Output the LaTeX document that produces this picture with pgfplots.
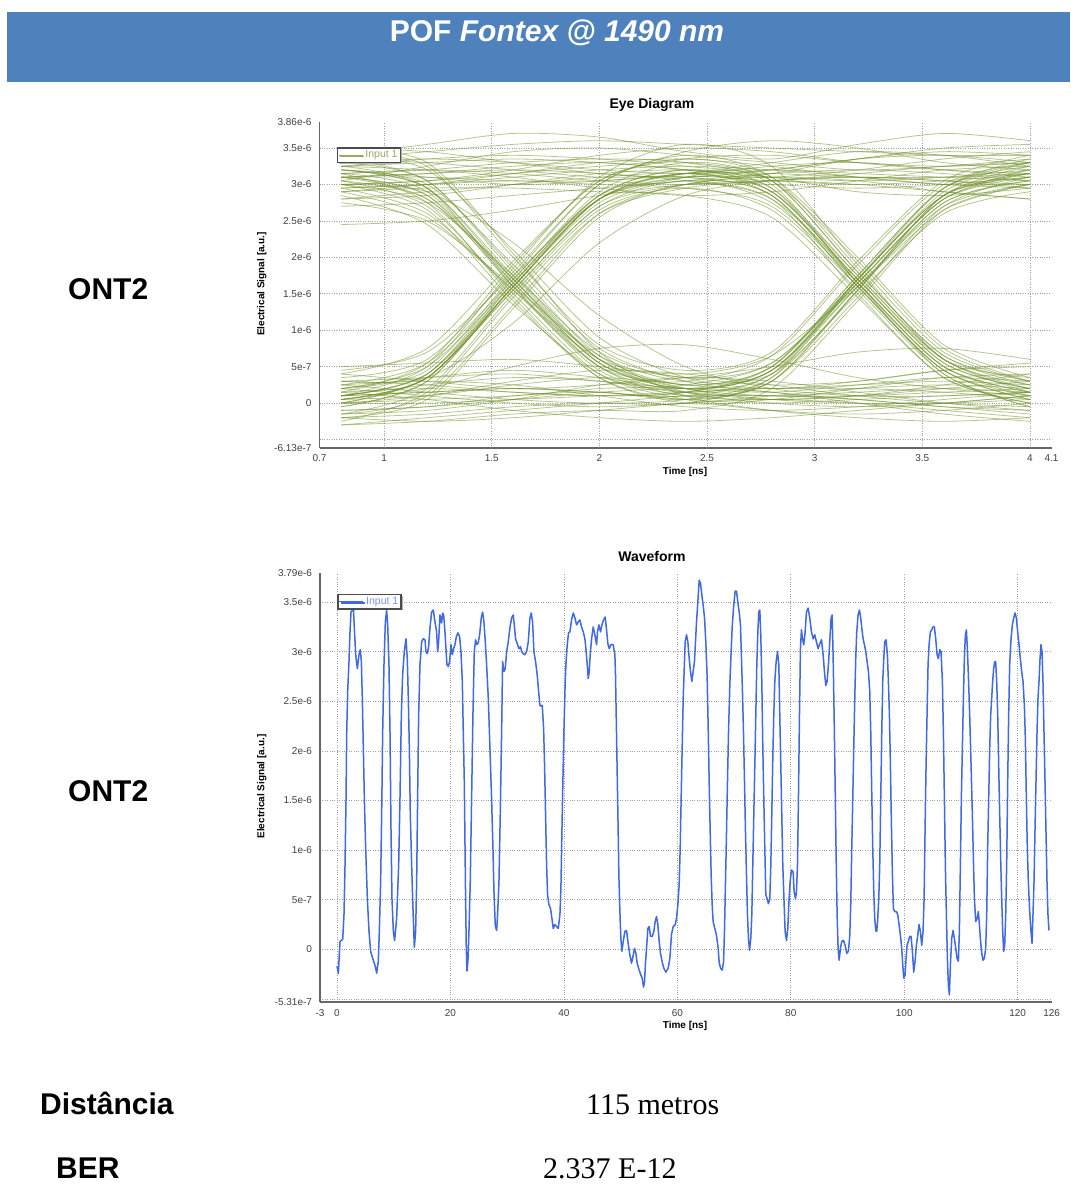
\documentclass[border=0pt]{standalone}
\usepackage{fontspec}
\setmainfont{Liberation Sans}
\newfontfamily\seriffont{Liberation Serif}
\usepackage{pgfplots}
\pgfplotsset{compat=1.18}
\usetikzlibrary{shadows}
\definecolor{barblue}{RGB}{79,129,189}
\definecolor{eyegreen}{RGB}{108,142,36}
\definecolor{eyelegtext}{RGB}{150,172,100}
\definecolor{waveblue}{RGB}{65,105,225}
\definecolor{wavelegtext}{RGB}{125,145,235}

\pgfplotsset{
  chartstyle/.style={
    scale only axis,
    anchor=south west,
    axis x line*=bottom, axis y line*=left,
    axis line style={black!60, line width=1.5pt},
    major tick length=0pt,
    grid=major,
    major grid style={gray!75, dotted, line width=0.7pt},
    tick label style={font=\fontsize{10}{12}\selectfont, text=black!75},
    yticklabel style={xshift=-4.5pt},
    xticklabel style={yshift=-3.5pt},
    extra tick style={grid=none},
    legend cell align=left,
    legend style={font=\fontsize{10.5}{12}\selectfont, draw=black!70, line width=1.3pt, fill=white, inner sep=0.8pt, anchor=north west,
      drop shadow={shadow xshift=1.5pt, shadow yshift=-1.5pt, fill=black!30, opacity=1}},
  },
  eyeline/.style={color=eyegreen, opacity=0.5, line width=0.8pt, smooth, forget plot},
}
\newcommand{\eye}[9]{\addplot[eyeline] coordinates {(0.8,#1)(1.2,#2)(1.6,#3)(2.0,#4)(2.4,#5)(2.8,#6)(3.2,#7)(3.6,#8)(4.0,#9)};}

\begin{document}
\begin{tikzpicture}
\path[use as bounding box] (0pt,0pt) rectangle (1070pt,-1185pt);
\fill[barblue] (7pt,-12pt) rectangle (1070pt,-82pt);
\node[anchor=base, text=white, inner sep=0pt, font=\fontsize{30}{36}\selectfont\bfseries] at (557pt,-42pt) {POF \textit{Fontex @ 1490 nm}};

% ---------------- Eye diagram ----------------
\begin{axis}[chartstyle,
  at={(319.5pt,-447.8pt)}, width=732pt, height=326pt,
  xmin=0.7, xmax=4.1, ymin=-0.613, ymax=3.86,
  xtick={1,1.5,2,2.5,3,3.5,4}, xticklabels={1,1.5,2,2.5,3,3.5,4},
  extra x ticks={0.7,4.1}, extra x tick labels={0.7,4.1},
  ytick={-0.5,0,0.5,1,1.5,2,2.5,3,3.5},
  yticklabels={,0,5e-7,1e-6,1.5e-6,2e-6,2.5e-6,3e-6,3.5e-6},
  extra y ticks={-0.613,3.86}, extra y tick labels={-6.13e-7,3.86e-6},
  legend style={at={(0.024,0.922)}, text=eyelegtext},
  legend image code/.code={\draw[#1] (0pt,0pt) -- (24pt,0pt);},
]
\addlegendimage{color=eyegreen!75, line width=0.9pt}
\addlegendentry{Input 1}
% HHH
\eye{3.10}{3.15}{3.25}{3.30}{3.20}{3.10}{3.05}{3.10}{3.20}
\eye{3.30}{3.35}{3.30}{3.20}{3.15}{3.20}{3.35}{3.40}{3.30}
\eye{2.95}{3.00}{3.10}{3.20}{3.25}{3.20}{3.10}{3.00}{2.95}
\eye{3.40}{3.55}{3.70}{3.65}{3.45}{3.35}{3.55}{3.70}{3.60}
\eye{2.80}{2.85}{3.00}{3.15}{3.20}{3.10}{2.90}{2.85}{2.95}
\eye{3.20}{3.10}{3.00}{3.05}{3.15}{3.30}{3.45}{3.40}{3.25}
\eye{3.05}{3.25}{3.45}{3.50}{3.40}{3.30}{3.20}{3.25}{3.35}
\eye{2.70}{2.75}{2.85}{2.95}{3.05}{3.15}{3.20}{3.15}{3.05}
\eye{3.50}{3.45}{3.30}{3.15}{3.10}{3.20}{3.35}{3.50}{3.55}
\eye{3.15}{3.20}{3.15}{3.05}{3.00}{3.05}{3.15}{3.25}{3.30}
\eye{2.45}{2.50}{2.65}{2.85}{3.00}{3.05}{3.00}{2.90}{2.80}
\eye{3.00}{3.05}{3.20}{3.40}{3.50}{3.45}{3.30}{3.20}{3.15}
\eye{3.25}{3.20}{3.10}{2.95}{2.85}{2.90}{3.05}{3.20}{3.25}
\eye{2.90}{3.00}{3.15}{3.30}{3.35}{3.25}{3.10}{3.00}{3.00}
\eye{3.35}{3.45}{3.55}{3.60}{3.55}{3.50}{3.45}{3.40}{3.40}
% LLL
\eye{0.10}{0.15}{0.20}{0.15}{0.05}{0.00}{0.05}{0.10}{0.15}
\eye{-0.20}{-0.25}{-0.20}{-0.10}{0.00}{0.05}{0.00}{-0.10}{-0.20}
\eye{0.30}{0.35}{0.40}{0.30}{0.20}{0.15}{0.25}{0.35}{0.30}
\eye{0.00}{0.10}{0.30}{0.45}{0.40}{0.25}{0.10}{0.00}{-0.05}
\eye{-0.10}{-0.05}{0.05}{0.15}{0.20}{0.15}{0.00}{-0.15}{-0.25}
\eye{0.50}{0.55}{0.60}{0.50}{0.35}{0.25}{0.30}{0.45}{0.55}
\eye{0.20}{0.10}{0.00}{-0.05}{0.00}{0.10}{0.20}{0.25}{0.20}
\eye{-0.30}{-0.20}{-0.10}{0.00}{0.10}{0.10}{0.05}{-0.05}{-0.10}
\eye{0.05}{0.20}{0.50}{0.75}{0.80}{0.60}{0.35}{0.20}{0.10}
\eye{0.15}{0.05}{-0.10}{-0.20}{-0.25}{-0.20}{-0.10}{0.00}{0.10}
\eye{0.40}{0.30}{0.20}{0.25}{0.35}{0.50}{0.70}{0.75}{0.60}
\eye{0.00}{0.00}{0.05}{0.10}{0.15}{0.20}{0.20}{0.15}{0.05}
\eye{0.25}{0.30}{0.25}{0.10}{-0.05}{-0.10}{-0.05}{0.05}{0.15}
\eye{-0.15}{-0.10}{0.05}{0.25}{0.35}{0.30}{0.15}{0.00}{-0.10}
\eye{0.10}{0.25}{0.35}{0.30}{0.15}{0.05}{0.10}{0.25}{0.40}
% HLL
\eye{3.10}{2.80}{1.65}{0.55}{0.20}{0.10}{0.10}{0.15}{0.20}
\eye{3.30}{3.05}{1.80}{0.60}{0.15}{0.00}{-0.05}{0.00}{0.10}
\eye{2.95}{2.60}{1.55}{0.50}{0.25}{0.20}{0.25}{0.30}{0.25}
\eye{3.20}{3.00}{1.90}{0.75}{0.30}{0.15}{0.05}{-0.05}{-0.15}
\eye{3.05}{2.70}{1.50}{0.40}{0.05}{-0.10}{-0.15}{-0.10}{0.00}
\eye{3.40}{3.20}{2.10}{0.90}{0.35}{0.20}{0.30}{0.45}{0.50}
\eye{3.20}{2.95}{1.75}{0.60}{0.20}{0.05}{0.00}{0.00}{0.05}
\eye{3.00}{2.90}{2.20}{1.20}{0.50}{0.20}{0.10}{0.10}{0.15}
\eye{2.85}{2.45}{1.35}{0.40}{0.10}{0.05}{0.10}{0.20}{0.30}
\eye{3.50}{3.30}{2.05}{0.70}{0.10}{-0.10}{-0.20}{-0.25}{-0.20}
\eye{3.15}{2.75}{1.45}{0.35}{0.00}{0.05}{0.20}{0.35}{0.40}
\eye{3.10}{2.85}{1.60}{0.50}{0.15}{0.10}{0.15}{0.20}{0.15}
% HLH
\eye{3.10}{2.85}{1.70}{0.55}{0.20}{0.45}{1.65}{2.80}{3.15}
\eye{3.25}{2.95}{1.60}{0.45}{0.15}{0.40}{1.60}{2.75}{3.05}
\eye{3.00}{2.75}{1.75}{0.70}{0.35}{0.55}{1.70}{2.90}{3.30}
\eye{3.35}{3.05}{1.85}{0.65}{0.25}{0.50}{1.75}{2.95}{3.25}
\eye{2.90}{2.55}{1.55}{0.60}{0.40}{0.65}{1.60}{2.65}{3.00}
\eye{3.15}{2.90}{1.65}{0.50}{0.10}{0.30}{1.55}{2.85}{3.20}
\eye{3.05}{2.80}{1.70}{0.60}{0.25}{0.50}{1.70}{2.85}{3.15}
\eye{3.00}{2.65}{1.40}{0.35}{0.05}{0.30}{1.45}{2.70}{3.10}
\eye{3.45}{3.25}{2.00}{0.80}{0.45}{0.70}{1.95}{3.05}{3.40}
\eye{2.75}{2.50}{1.60}{0.65}{0.30}{0.40}{1.50}{2.60}{2.90}
\eye{3.20}{2.95}{1.70}{0.55}{0.20}{0.45}{1.70}{2.85}{3.15}
% LHL
\eye{0.10}{0.40}{1.65}{2.85}{3.20}{2.90}{1.70}{0.55}{0.20}
\eye{-0.05}{0.30}{1.60}{2.80}{3.15}{2.85}{1.60}{0.45}{0.05}
\eye{0.25}{0.55}{1.70}{2.90}{3.30}{3.05}{1.80}{0.65}{0.30}
\eye{0.00}{0.35}{1.55}{2.70}{3.05}{2.75}{1.65}{0.50}{0.15}
\eye{0.20}{0.45}{1.75}{3.00}{3.40}{3.10}{1.85}{0.60}{0.25}
\eye{-0.15}{0.20}{1.50}{2.65}{2.95}{2.65}{1.55}{0.40}{-0.05}
\eye{0.05}{0.35}{1.60}{2.80}{3.15}{2.90}{1.75}{0.60}{0.20}
\eye{0.40}{0.75}{1.95}{3.05}{3.35}{3.10}{2.00}{0.80}{0.35}
\eye{-0.20}{0.05}{1.30}{2.55}{3.00}{2.80}{1.50}{0.35}{0.00}
\eye{0.10}{0.50}{1.85}{3.10}{3.55}{3.25}{1.90}{0.70}{0.30}
\eye{0.05}{0.35}{1.65}{2.85}{3.20}{2.95}{1.65}{0.50}{0.15}
% LLH
\eye{0.10}{0.15}{0.20}{0.15}{0.10}{0.40}{1.70}{2.85}{3.10}
\eye{-0.10}{-0.05}{0.10}{0.15}{0.05}{0.30}{1.55}{2.75}{3.05}
\eye{0.30}{0.25}{0.15}{0.10}{0.15}{0.50}{1.75}{2.95}{3.30}
\eye{0.00}{0.05}{0.10}{0.20}{0.25}{0.55}{1.65}{2.80}{3.20}
\eye{0.20}{0.35}{0.45}{0.35}{0.20}{0.45}{1.60}{2.70}{3.00}
\eye{-0.20}{-0.15}{-0.05}{0.00}{0.00}{0.35}{1.70}{2.95}{3.35}
\eye{0.15}{0.20}{0.15}{0.10}{0.15}{0.45}{1.65}{2.80}{3.10}
\eye{0.05}{0.10}{0.25}{0.35}{0.30}{0.65}{1.90}{3.00}{3.30}
\eye{-0.30}{-0.25}{-0.15}{-0.10}{-0.10}{0.20}{1.40}{2.65}{3.00}
\eye{0.25}{0.15}{0.05}{0.00}{0.05}{0.35}{1.55}{2.85}{3.25}
% LHH
\eye{0.10}{0.40}{1.70}{2.85}{3.15}{3.20}{3.15}{3.10}{3.05}
\eye{-0.05}{0.30}{1.60}{2.75}{3.10}{3.25}{3.30}{3.20}{3.10}
\eye{0.20}{0.50}{1.65}{2.80}{3.05}{3.00}{2.95}{3.00}{3.10}
\eye{0.00}{0.35}{1.55}{2.70}{3.00}{3.15}{3.35}{3.45}{3.40}
\eye{0.35}{0.60}{1.80}{3.00}{3.45}{3.60}{3.50}{3.30}{3.20}
\eye{-0.25}{0.15}{1.45}{2.60}{2.95}{3.05}{3.10}{3.05}{2.95}
\eye{0.05}{0.35}{1.60}{2.80}{3.10}{3.05}{3.00}{3.05}{3.15}
\eye{0.30}{0.35}{1.10}{2.20}{2.85}{3.05}{3.10}{3.05}{3.00}
\eye{0.15}{0.55}{1.90}{3.05}{3.35}{3.40}{3.30}{3.25}{3.30}
\eye{-0.15}{0.10}{1.35}{2.60}{3.00}{3.10}{3.05}{2.90}{2.80}
\eye{0.45}{0.70}{1.75}{2.80}{3.10}{3.10}{3.20}{3.35}{3.45}
\eye{0.10}{0.40}{1.60}{2.80}{3.15}{3.15}{3.10}{3.10}{3.15}
% HHL
\eye{3.10}{3.15}{3.20}{3.15}{3.05}{2.80}{1.70}{0.55}{0.20}
\eye{3.25}{3.30}{3.35}{3.30}{3.20}{2.95}{1.75}{0.60}{0.15}
\eye{2.95}{3.00}{3.05}{3.00}{2.95}{2.70}{1.60}{0.45}{0.05}
\eye{3.00}{3.05}{3.15}{3.25}{3.30}{3.05}{1.80}{0.65}{0.25}
\eye{3.35}{3.30}{3.20}{3.10}{3.10}{2.85}{1.65}{0.50}{0.10}
\eye{2.80}{2.90}{3.00}{3.10}{3.15}{2.90}{1.70}{0.60}{0.35}
\eye{3.10}{3.10}{3.05}{3.05}{3.10}{2.85}{1.60}{0.45}{0.10}
\eye{3.25}{3.35}{3.40}{3.35}{3.25}{3.05}{1.95}{0.75}{0.30}
\eye{2.90}{2.95}{2.95}{2.90}{2.85}{2.55}{1.45}{0.35}{0.00}
\eye{3.15}{3.20}{3.30}{3.35}{3.30}{3.00}{1.65}{0.40}{-0.05}
\end{axis}
\node[font=\fontsize{14}{16}\selectfont\bfseries, inner sep=0pt] at (652pt,-105pt) {Eye Diagram};
\node[font=\fontsize{10}{12}\selectfont\bfseries, inner sep=0pt] at (685pt,-472pt) {Time [ns]};
\node[font=\fontsize{10}{12}\selectfont\bfseries, inner sep=0pt, rotate=90] at (261.7pt,-284pt) {Electrical Signal [a.u.]};

% ---------------- Waveform ----------------
\begin{axis}[chartstyle,
  at={(320pt,-1002pt)}, width=731.7pt, height=428.7pt,
  xmin=-3, xmax=126, ymin=-0.531, ymax=3.79,
  xtick={0,20,40,60,80,100,120}, xticklabels={0,20,40,60,80,100,120},
  extra x ticks={-3,126}, extra x tick labels={-3,126},
  ytick={-0.5,0,0.5,1,1.5,2,2.5,3,3.5},
  yticklabels={,0,5e-7,1e-6,1.5e-6,2e-6,2.5e-6,3e-6,3.5e-6},
  extra y ticks={-0.531,3.79}, extra y tick labels={-5.31e-7,3.79e-6},
  legend style={at={(0.0236,0.952)}, text=wavelegtext},
  legend image code/.code={\draw[#1] (0pt,0pt) -- (24pt,0pt);},
]
\addplot[color=waveblue, line width=1.5pt, line join=round] coordinates {
(0.00,-0.17)(0.23,-0.24)(0.53,0.08)(1.00,0.10)(1.23,0.35)(1.41,0.85)(1.59,1.52)(1.70,2.16)(1.88,2.60)(2.11,2.90)
(2.29,3.20)(2.47,3.40)(2.70,3.42)(2.88,3.45)(3.05,3.24)(3.29,2.97)(3.58,2.83)(3.88,2.97)(4.11,3.02)(4.29,2.90)
(4.46,2.53)(4.64,2.03)(4.82,1.52)(5.05,1.02)(5.35,0.51)(5.64,0.18)(5.93,-0.02)(6.28,-0.09)(6.70,-0.16)(6.99,-0.24)
(7.28,-0.12)(7.46,0.18)(7.69,0.68)(7.87,1.36)(8.05,2.19)(8.28,2.87)(8.52,3.30)(8.75,3.42)(8.93,3.27)(9.16,2.87)
(9.34,2.19)(9.52,1.19)(9.69,0.51)(9.93,0.18)(10.16,0.09)(10.51,0.31)(10.87,0.85)(11.10,1.52)(11.34,2.36)(11.57,2.77)
(11.86,3.00)(12.16,3.13)(12.39,2.93)(12.57,2.53)(12.75,2.03)(12.92,1.36)(13.16,0.85)(13.39,0.41)(13.63,0.02)(13.86,0.18)
(14.04,0.68)(14.21,1.52)(14.39,2.36)(14.63,2.87)(14.92,3.10)(15.21,3.13)(15.51,3.12)(15.68,3.00)(15.92,2.98)(16.15,3.05)
(16.39,3.24)(16.68,3.40)(16.98,3.42)(17.27,3.30)(17.56,3.20)(17.74,3.00)(17.91,3.10)(18.15,3.37)(18.44,3.29)(18.62,3.39)
(18.80,3.37)(19.03,3.20)(19.21,3.03)(19.38,2.87)(19.62,2.85)(19.85,2.90)(20.09,3.07)(20.32,2.97)(20.56,3.03)(20.79,3.07)
(21.03,3.15)(21.32,3.19)(21.62,3.15)(21.85,3.00)(22.09,2.70)(22.26,2.19)(22.44,1.69)(22.55,1.12)(22.67,0.51)(22.79,0.01)
(22.91,-0.22)(23.08,-0.12)(23.26,0.18)(23.49,0.68)(23.73,1.52)(23.96,2.36)(24.20,3.00)(24.43,3.12)(24.67,3.07)(24.90,3.09)
(25.14,3.17)(25.43,3.34)(25.67,3.40)(25.90,3.30)(26.14,3.10)(26.37,2.87)(26.67,2.53)(26.96,2.03)(27.25,1.52)(27.49,1.02)
(27.67,0.58)(27.90,0.24)(28.14,0.19)(28.31,0.35)(28.55,0.68)(28.78,1.36)(29.02,2.19)(29.19,2.90)(29.43,2.80)(29.66,2.83)
(29.90,3.00)(30.19,3.10)(30.48,3.24)(30.78,3.34)(31.07,3.37)(31.25,3.27)(31.48,3.13)(31.78,3.08)(32.07,3.03)(32.36,3.05)
(32.54,3.00)(32.83,2.98)(33.13,2.97)(33.42,3.00)(33.72,3.10)(34.01,3.34)(34.24,3.39)(34.48,3.30)(34.71,3.00)(35.01,2.90)
(35.30,2.76)(35.54,2.60)(35.77,2.46)(36.01,2.45)(36.18,2.46)(36.42,2.23)(36.59,1.86)(36.77,1.35)(36.95,0.85)(37.12,0.55)
(37.36,0.45)(37.65,0.41)(37.89,0.31)(38.12,0.21)(38.41,0.25)(38.71,0.23)(39.00,0.21)(39.30,0.35)(39.47,0.61)(39.65,1.19)
(39.82,1.69)(40.00,2.19)(40.18,2.60)(40.35,2.87)(40.59,3.07)(40.82,3.19)(41.06,3.20)(41.35,3.32)(41.64,3.39)(41.94,3.34)
(42.23,3.27)(42.53,3.30)(42.82,3.32)(43.11,3.25)(43.41,3.20)(43.70,3.13)(43.88,3.03)(44.11,2.87)(44.29,2.73)(44.46,2.80)
(44.64,2.97)(44.88,3.13)(45.17,3.25)(45.46,3.17)(45.76,3.07)(45.93,3.20)(46.17,3.27)(46.46,3.20)(46.70,3.27)(46.99,3.32)
(47.28,3.35)(47.52,3.22)(47.75,3.08)(47.99,3.03)(48.28,3.07)(48.69,3.07)(48.99,2.97)(49.10,2.76)(49.22,2.36)(49.40,1.76)
(49.57,1.18)(49.69,0.75)(49.87,0.38)(50.04,0.11)(50.22,-0.02)(50.46,0.08)(50.75,0.18)(51.04,0.19)(51.28,0.08)(51.63,-0.06)
(51.92,-0.14)(52.22,-0.06)(52.45,0.01)(52.69,-0.04)(52.92,-0.14)(53.27,-0.21)(53.57,-0.26)(53.80,-0.29)(54.04,-0.38)(54.21,-0.33)
(54.39,-0.13)(54.57,0.01)(54.80,0.21)(55.04,0.23)(55.27,0.13)(55.57,0.13)(55.86,0.18)(56.09,0.28)(56.33,0.33)(56.56,0.25)
(56.80,0.08)(57.03,-0.04)(57.33,-0.13)(57.62,-0.19)(57.97,-0.23)(58.38,-0.19)(58.68,-0.09)(58.97,0.15)(59.27,0.23)(59.62,0.25)
(59.85,0.31)(60.09,0.45)(60.32,0.65)(60.50,1.02)(60.67,1.52)(60.85,2.03)(61.03,2.53)(61.38,3.10)(61.62,3.17)(61.85,3.10)
(62.09,2.93)(62.32,2.80)(62.56,2.70)(62.79,2.80)(63.02,2.90)(63.20,3.10)(63.38,3.30)(63.61,3.50)(63.85,3.72)(64.08,3.69)
(64.32,3.57)(64.55,3.47)(64.79,3.34)(65.02,3.10)(65.26,2.73)(65.43,2.26)(65.61,1.69)(65.79,1.19)(65.96,0.75)(66.14,0.45)
(66.31,0.28)(66.61,0.21)(66.90,0.14)(67.20,0.01)(67.37,-0.13)(67.61,-0.19)(67.90,-0.21)(68.14,-0.13)(68.31,0.18)(68.49,0.68)
(68.67,1.19)(68.84,1.69)(69.02,2.19)(69.25,2.66)(69.43,2.93)(69.66,3.24)(69.90,3.44)(70.19,3.61)(70.43,3.61)(70.66,3.50)
(70.90,3.40)(71.13,3.27)(71.31,2.93)(71.48,2.60)(71.66,2.19)(71.84,1.69)(72.01,1.19)(72.19,0.75)(72.36,0.35)(72.54,0.11)
(72.72,-0.01)(72.95,0.11)(73.13,0.35)(73.30,0.85)(73.48,1.36)(73.66,1.86)(73.83,2.36)(74.01,2.87)(74.19,3.20)(74.36,3.40)
(74.54,3.42)(74.71,3.17)(74.89,2.70)(75.07,2.03)(75.24,1.52)(75.42,1.02)(75.60,0.55)(75.83,0.51)(76.06,0.46)(76.30,0.51)
(76.48,0.85)(76.65,1.36)(76.83,1.93)(77.00,2.36)(77.18,2.70)(77.42,2.90)(77.65,3.00)(77.89,2.87)(78.06,2.36)(78.24,1.86)
(78.41,1.36)(78.59,0.85)(78.83,0.45)(79.00,0.18)(79.24,0.09)(79.47,0.21)(79.65,0.45)(79.88,0.68)(80.12,0.80)(80.41,0.78)
(80.59,0.58)(80.82,0.51)(81.00,0.58)(81.18,0.85)(81.35,1.52)(81.53,2.36)(81.70,3.03)(81.88,3.22)(82.06,3.13)(82.29,3.07)
(82.53,3.20)(82.76,3.40)(83.05,3.44)(83.35,3.34)(83.64,3.20)(83.94,3.13)(84.23,3.17)(84.52,3.10)(84.82,3.03)(85.11,3.08)
(85.41,3.12)(85.70,2.97)(85.93,2.80)(86.17,2.66)(86.40,2.70)(86.64,2.87)(86.87,3.10)(87.11,3.34)(87.29,3.37)(87.46,2.97)
(87.64,2.36)(87.81,1.69)(87.99,0.95)(88.17,0.35)(88.34,0.01)(88.52,-0.11)(88.75,0.01)(88.99,0.08)(89.28,0.09)(89.57,0.04)
(89.87,-0.04)(90.16,-0.02)(90.40,0.14)(90.57,0.45)(90.75,1.02)(90.93,1.52)(91.10,2.03)(91.28,2.53)(91.45,2.93)(91.63,3.20)
(91.86,3.37)(92.10,3.42)(92.33,3.34)(92.51,3.24)(92.75,3.13)(92.98,3.07)(93.22,3.00)(93.45,2.90)(93.69,2.80)(93.92,2.60)
(94.10,2.19)(94.27,1.59)(94.45,1.02)(94.63,0.58)(94.80,0.31)(94.98,0.19)(95.15,0.18)(95.33,0.31)(95.51,0.51)(95.68,0.85)
(95.86,1.52)(96.04,2.19)(96.21,2.70)(96.39,2.93)(96.56,3.10)(96.80,3.12)(97.03,2.97)(97.21,2.70)(97.39,2.36)(97.56,1.86)
(97.74,1.26)(97.92,0.75)(98.09,0.41)(98.33,0.38)(98.62,0.38)(98.85,0.35)(99.09,0.25)(99.33,0.14)(99.56,0.01)(99.74,-0.16)
(99.91,-0.29)(100.15,-0.26)(100.32,-0.09)(100.50,0.04)(100.73,0.08)(100.97,0.13)(101.20,0.13)(101.44,-0.02)(101.67,-0.23)(101.91,-0.12)
(102.14,0.04)(102.38,0.14)(102.61,0.25)(102.85,0.18)(103.08,0.04)(103.32,0.18)(103.50,0.51)(103.67,1.19)(103.85,1.86)(104.02,2.36)
(104.20,2.87)(104.38,3.07)(104.61,3.20)(104.85,3.22)(105.08,3.25)(105.32,3.25)(105.55,3.13)(105.79,2.97)(106.02,2.93)(106.26,3.02)
(106.49,3.00)(106.73,2.70)(106.90,2.19)(107.08,1.52)(107.25,0.85)(107.43,0.35)(107.61,-0.09)(107.78,-0.36)(107.96,-0.46)(108.14,-0.16)
(108.37,0.11)(108.61,0.19)(108.84,0.11)(109.08,0.01)(109.31,-0.09)(109.55,-0.12)(109.72,0.18)(109.90,0.85)(110.07,1.52)(110.25,2.03)
(110.43,2.53)(110.60,2.93)(110.78,3.17)(110.96,3.22)(111.13,3.03)(111.31,2.76)(111.54,2.36)(111.78,1.86)(112.01,1.36)(112.19,0.92)
(112.37,0.51)(112.60,0.28)(112.84,0.31)(113.07,0.38)(113.25,0.25)(113.42,0.11)(113.66,-0.04)(113.89,-0.11)(114.13,-0.09)(114.36,0.01)
(114.54,0.35)(114.71,1.02)(114.89,1.52)(115.07,2.03)(115.24,2.36)(115.42,2.53)(115.59,2.70)(115.77,2.83)(115.95,2.90)(116.12,2.90)
(116.30,2.70)(116.48,2.36)(116.65,1.86)(116.83,1.36)(117.00,0.92)(117.18,0.51)(117.36,0.18)(117.53,-0.02)(117.71,0.04)(117.89,0.35)
(118.06,0.85)(118.24,1.69)(118.41,2.36)(118.59,2.87)(118.83,3.13)(119.06,3.27)(119.30,3.34)(119.53,3.39)(119.77,3.34)(120.00,3.20)
(120.24,3.07)(120.47,2.93)(120.71,2.80)(120.94,2.70)(121.18,2.46)(121.35,2.13)(121.53,1.52)(121.70,1.02)(121.88,0.68)(122.12,0.38)
(122.35,0.18)(122.53,0.06)(122.70,0.35)(122.88,0.68)(123.05,1.19)(123.23,1.69)(123.41,2.19)(123.58,2.53)(123.76,2.70)(123.94,2.93)
(124.11,3.07)(124.29,3.00)(124.46,2.70)(124.64,2.19)(124.82,1.69)(124.99,1.19)(125.17,0.68)(125.34,0.35)(125.52,0.19)
};
\addlegendentry{Input 1}
\end{axis}
\node[font=\fontsize{14}{16}\selectfont\bfseries, inner sep=0pt] at (652pt,-556pt) {Waveform};
\node[font=\fontsize{10}{12}\selectfont\bfseries, inner sep=0pt] at (685pt,-1026pt) {Time [ns]};
\node[font=\fontsize{10}{12}\selectfont\bfseries, inner sep=0pt, rotate=90] at (261.7pt,-786.5pt) {Electrical Signal [a.u.]};

% ---------------- Side labels ----------------
\node[anchor=base west, inner sep=0pt, font=\fontsize{30}{36}\selectfont\bfseries] at (68pt,-299pt) {ONT2};
\node[anchor=base west, inner sep=0pt, font=\fontsize{30}{36}\selectfont\bfseries] at (68pt,-801pt) {ONT2};
\node[anchor=base west, inner sep=0pt, font=\fontsize{30}{36}\selectfont\bfseries] at (40pt,-1114pt) {Distância};
\node[anchor=base west, inner sep=0pt, font=\fontsize{30}{36}\selectfont\bfseries] at (56pt,-1178pt) {BER};
\node[anchor=base west, inner sep=0pt, font=\fontsize{30}{36}\selectfont\seriffont] at (586pt,-1114pt) {115 metros};
\node[anchor=base west, inner sep=0pt, font=\fontsize{30}{36}\selectfont\seriffont] at (543pt,-1178pt) {2.337 E-12};
\end{tikzpicture}
\end{document}
